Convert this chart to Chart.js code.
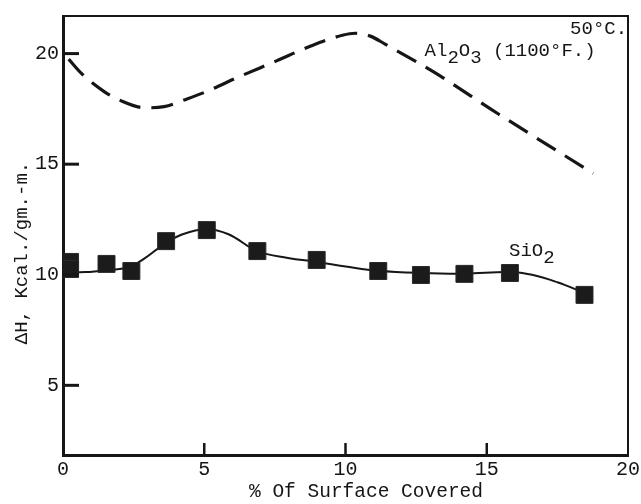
<!DOCTYPE html>
<html lang="en">
<head>
    <meta charset="UTF-8">
    <title>Heat of Adsorption vs Surface Coverage</title>
    <script src="https://cdn.jsdelivr.net/npm/chart.js"></script>
    <style>
        body { margin: 0; background: #fff; }
        canvas { display: block; }
    </style>
</head>
<body>
    <canvas id="heatChart" width="641" height="504"></canvas>
    <script>
        // Axis ticks
        const xTicks = [0, 5, 10, 15, 20];
        const yTicks = [5, 10, 15, 20];

        // SiO2 measured points
        const sio2PointX = [0.25, 0.25, 1.54, 2.42, 3.65, 5.09, 6.88, 8.98, 11.16, 12.67, 14.21, 15.82, 18.46];
        const sio2PointY = [10.58, 10.26, 10.49, 10.17, 11.52, 12.02, 11.07, 10.67, 10.17, 9.99, 10.04, 10.08, 9.09];

        // SiO2 smoothed curve
        const sio2CurveX = [0, 0.8, 1.54, 2.3, 2.9, 3.51, 4.21, 5.09, 5.86, 6.88, 7.96, 8.98, 10.07, 11.16, 12.67, 14.21, 15.82, 16.6, 17.5, 18.46];
        const sio2CurveY = [10.13, 10.12, 10.2, 10.34, 10.75, 11.32, 11.82, 12.06, 11.83, 11.07, 10.76, 10.58, 10.36, 10.18, 10.08, 10.05, 10.12, 10.0, 9.66, 9.18];

        // Al2O3 curve (dashed)
        const al2o3X = [0.2, 0.67, 1.47, 2.0, 2.91, 3.58, 4.39, 5.05, 6.21, 7.54, 8.77, 9.89, 10.35, 10.88, 11.4, 13.12, 15.4, 18.77];
        const al2o3Y = [19.75, 19.08, 18.27, 17.9, 17.55, 17.6, 17.95, 18.27, 18.94, 19.66, 20.34, 20.83, 20.92, 20.79, 20.43, 19.17, 17.28, 14.58];

        const ink = '#161616';
        const mono = '"Liberation Mono", "DejaVu Sans Mono", monospace';

        function toPoints(xs, ys) {
            return xs.map((x, i) => ({ x: x, y: ys[i] }));
        }

        // draws a run of text pieces, some of them dropped as subscripts
        function drawParts(ctx, x, y, parts) {
            parts.forEach(p => {
                ctx.fillText(p.t, x, y + (p.dy || 0));
                x += ctx.measureText(p.t).width;
            });
        }

        // frame, inward tick marks, curve labels and axis titles
        const decorations = {
            id: 'decorations',
            afterDatasetsDraw(chart) {
                const { ctx, chartArea: a, scales: { x, y } } = chart;
                ctx.save();
                ctx.strokeStyle = ink;
                ctx.lineCap = 'butt';

                // top and right edges of the frame
                ctx.lineWidth = 2;
                ctx.beginPath();
                ctx.moveTo(a.left, a.top);
                ctx.lineTo(a.right, a.top);
                ctx.lineTo(a.right, a.bottom);
                ctx.stroke();

                // tick marks pointing into the plot
                ctx.lineWidth = 3;
                yTicks.forEach(v => {
                    const py = y.getPixelForValue(v);
                    ctx.beginPath();
                    ctx.moveTo(a.left, py);
                    ctx.lineTo(a.left + 16, py);
                    ctx.stroke();
                });
                ctx.lineWidth = 2.5;
                xTicks.slice(1, -1).forEach(v => {
                    const px = x.getPixelForValue(v);
                    ctx.beginPath();
                    ctx.moveTo(px, a.bottom);
                    ctx.lineTo(px, a.bottom - 12);
                    ctx.stroke();
                });

                ctx.fillStyle = ink;
                ctx.textBaseline = 'middle';
                ctx.textAlign = 'left';
                ctx.font = '19px ' + mono;

                ctx.fillText('50°C.', x.getPixelForValue(17.95), y.getPixelForValue(21.1));
                drawParts(ctx, x.getPixelForValue(12.8), y.getPixelForValue(20.1), [
                    { t: 'Al' }, { t: '2', dy: 7 }, { t: 'O' }, { t: '3', dy: 7 }, { t: ' (1100°F.)' }
                ]);
                drawParts(ctx, x.getPixelForValue(15.79), y.getPixelForValue(11.07), [
                    { t: 'SiO' }, { t: '2', dy: 7 }
                ]);

                // axis titles
                ctx.textAlign = 'center';
                ctx.font = '19.5px ' + mono;
                ctx.fillText('% Of Surface Covered', 366, 492);

                ctx.translate(22, 253);
                ctx.rotate(-Math.PI / 2);
                ctx.font = '19px ' + mono;
                ctx.fillText('\u0394H, Kcal./gm.-m.', 0, 0);
                ctx.restore();
            }
        };

        const ctx = document.getElementById('heatChart').getContext('2d');
        new Chart(ctx, {
            type: 'line',
            data: {
                datasets: [
                    {
                        label: 'SiO2 points',
                        data: toPoints(sio2PointX, sio2PointY),
                        showLine: false,
                        pointStyle: 'rect',
                        pointRadius: 12,
                        pointBackgroundColor: '#1b1b1b',
                        pointBorderColor: '#2a2a2a',
                        pointBorderWidth: 1,
                        order: 0
                    },
                    {
                        label: 'SiO2',
                        data: toPoints(sio2CurveX, sio2CurveY),
                        borderColor: ink,
                        borderWidth: 2,
                        pointRadius: 0,
                        tension: 0.4,
                        order: 1
                    },
                    {
                        label: 'Al2O3',
                        data: toPoints(al2o3X, al2o3Y),
                        borderColor: ink,
                        borderWidth: 3.2,
                        borderDash: [22, 11],
                        pointRadius: 0,
                        cubicInterpolationMode: 'monotone',
                        order: 1
                    }
                ]
            },
            options: {
                responsive: false,
                animation: false,
                devicePixelRatio: 1,
                layout: { padding: { top: 14, right: 7, left: 0, bottom: 0 } },
                plugins: {
                    legend: { display: false },
                    tooltip: { enabled: false }
                },
                scales: {
                    x: {
                        type: 'linear',
                        min: 0,
                        max: 20,
                        afterBuildTicks: s => { s.ticks = xTicks.map(v => ({ value: v })); },
                        afterFit: s => { s.height = 49; s.paddingLeft = 0; s.paddingRight = 0; },
                        grid: { display: false, drawTicks: false },
                        border: { display: true, color: ink, width: 3 },
                        ticks: { color: ink, padding: 3, maxRotation: 0, font: { family: mono, size: 20 } }
                    },
                    y: {
                        type: 'linear',
                        min: 1.85,
                        max: 21.7,
                        afterBuildTicks: s => { s.ticks = yTicks.map(v => ({ value: v })); },
                        afterFit: s => { s.width = 63; },
                        grid: { display: false, drawTicks: false },
                        border: { display: true, color: ink, width: 3 },
                        ticks: { color: ink, padding: 4, font: { family: mono, size: 20 } }
                    }
                }
            },
            plugins: [decorations]
        });
    </script>
</body>
</html>
